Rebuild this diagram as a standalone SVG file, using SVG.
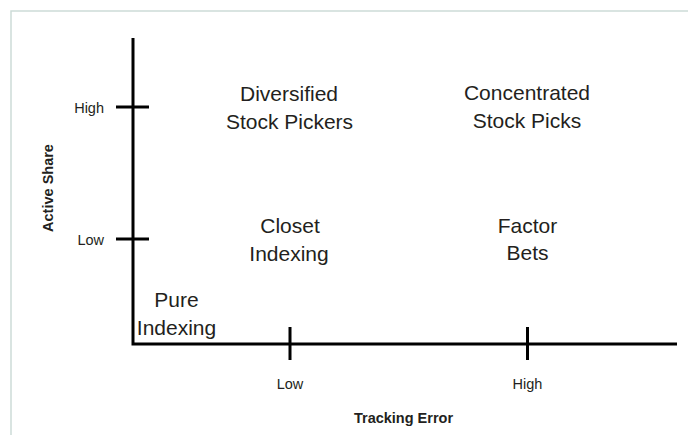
<svg xmlns="http://www.w3.org/2000/svg" width="688" height="435" viewBox="0 0 688 435">
<style>
.q{font-family:"Liberation Sans",Arial,sans-serif;font-size:21px;fill:#231f20;text-anchor:middle}
.t{font-family:"Liberation Sans",Arial,sans-serif;font-size:14.5px;fill:#231f20}
.a{font-family:"Liberation Sans",Arial,sans-serif;font-size:14.5px;font-weight:bold;fill:#231f20;text-anchor:middle}
.ax{stroke:#000;stroke-width:3;fill:none}
</style>
<rect width="688" height="435" fill="#fff"/>
<path d="M11 435V11H688" fill="none" stroke="#cddbd7" stroke-width="1.5"/>
<g id="connectors">
<path class="ax" d="M133 38V344H677"/>
<path class="ax" d="M116 107H149M116 239H149M290 327V360M527.5 327V360"/>
</g>
<g id="axis-labels">
<text class="t" x="104" y="113" text-anchor="end">High</text>
<text class="t" x="104" y="245" text-anchor="end">Low</text>
<text class="t" x="290" y="389" text-anchor="middle">Low</text>
<text class="t" x="527.5" y="389" text-anchor="middle">High</text>
<text class="a" x="403.5" y="423">Tracking Error</text>
<text class="a" transform="translate(52.5,188) rotate(-90)">Active Share</text>
</g>
<g id="diversified"><text class="q" x="289" y="101">Diversified</text><text class="q" x="289.5" y="129">Stock Pickers</text></g>
<g id="concentrated"><text class="q" x="527" y="100">Concentrated</text><text class="q" x="527" y="128">Stock Picks</text></g>
<g id="closet"><text class="q" x="290" y="233">Closet</text><text class="q" x="289" y="261">Indexing</text></g>
<g id="factor"><text class="q" x="527.5" y="233">Factor</text><text class="q" x="527.5" y="260">Bets</text></g>
<g id="pure"><text class="q" x="176.5" y="306.5">Pure</text><text class="q" x="176.5" y="334.5">Indexing</text></g>
</svg>
